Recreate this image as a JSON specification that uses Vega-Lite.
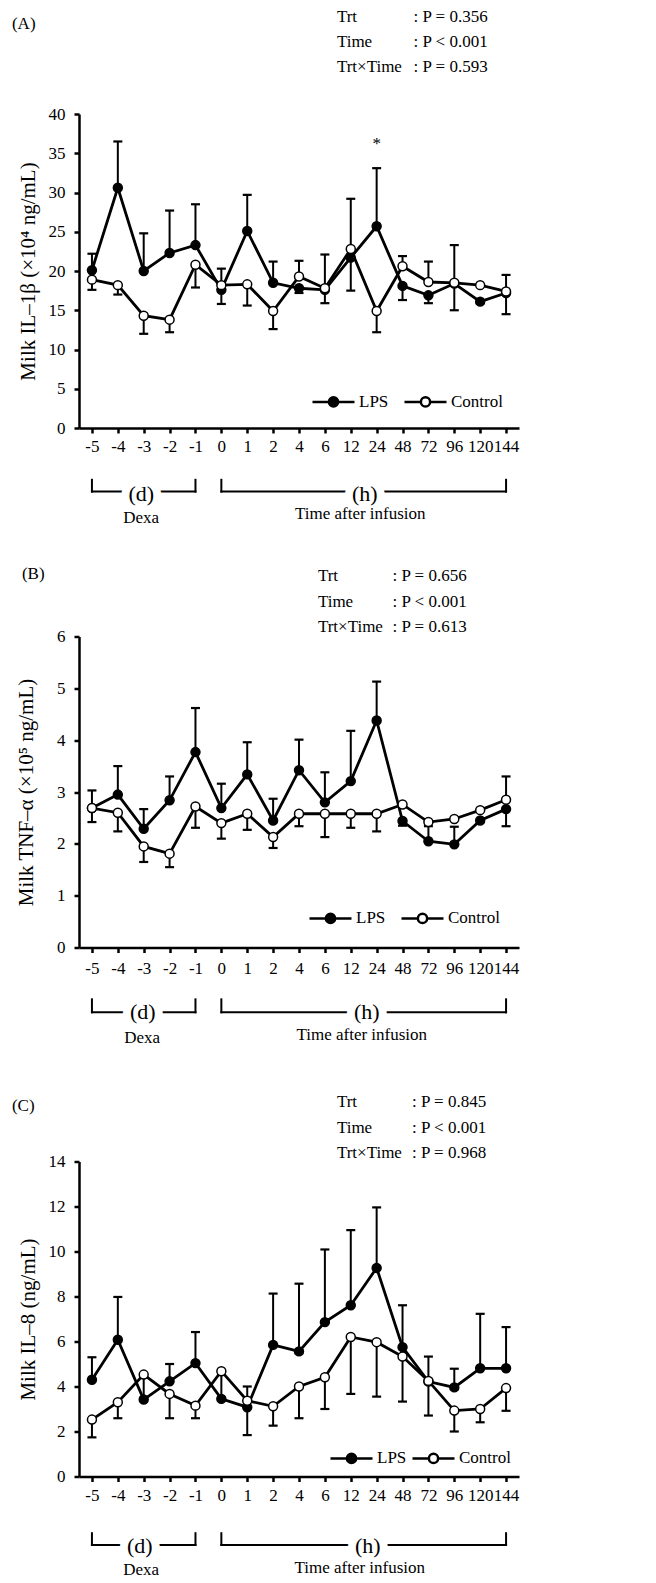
{
  "$schema": "https://vega.github.io/schema/vega-lite/v6.json",
  "background": "white",
  "padding": {"left": 11, "top": 7, "right": 5, "bottom": 2},
  "columns": 1,
  "align": "none",
  "spacing": 37.5,
  "config": {
    "font": "Liberation Serif",
    "view": {"stroke": null},
    "axis": {"labelFont": "Liberation Serif", "titleFont": "Liberation Serif", "labelColor": "black", "titleColor": "black", "domainColor": "black", "tickColor": "black", "domainWidth": 2.5, "tickWidth": 2.5, "tickSize": 5, "grid": false, "labelFontSize": 17, "titleFontSize": 21, "titleFontWeight": "normal", "labelPadding": 9, "labelOverlap": false},
    "legend": {"labelFont": "Liberation Serif", "labelFontSize": 17, "labelColor": "black"},
    "text": {"font": "Liberation Serif", "color": "black", "fontSize": 17},
    "rule": {"color": "black", "strokeWidth": 2, "strokeCap": "square"}
  },
  "datasets": {
    "A": [
      {"time": "-5", "group": "LPS", "mean": 20.1, "err": 22.2},
      {"time": "-4", "group": "LPS", "mean": 30.6, "err": 36.5},
      {"time": "-3", "group": "LPS", "mean": 20.0, "err": 24.8},
      {"time": "-2", "group": "LPS", "mean": 22.3, "err": 27.7},
      {"time": "-1", "group": "LPS", "mean": 23.3, "err": 28.5},
      {"time": "0", "group": "LPS", "mean": 17.6, "err": 15.8},
      {"time": "1", "group": "LPS", "mean": 25.1, "err": 29.7},
      {"time": "2", "group": "LPS", "mean": 18.5, "err": 21.2},
      {"time": "4", "group": "LPS", "mean": 17.8, "err": 17.2},
      {"time": "6", "group": "LPS", "mean": 17.6, "err": 15.9},
      {"time": "12", "group": "LPS", "mean": 21.7, "err": 17.5},
      {"time": "24", "group": "LPS", "mean": 25.7, "err": 33.1},
      {"time": "48", "group": "LPS", "mean": 18.1, "err": 16.3},
      {"time": "72", "group": "LPS", "mean": 16.9, "err": 15.9},
      {"time": "96", "group": "LPS", "mean": 18.4, "err": 15.0},
      {"time": "120", "group": "LPS", "mean": 16.1, "err": 15.9},
      {"time": "144", "group": "LPS", "mean": 17.2, "err": 14.5},
      {"time": "-5", "group": "Control", "mean": 18.9, "err": 17.6},
      {"time": "-4", "group": "Control", "mean": 18.2, "err": 17.0},
      {"time": "-3", "group": "Control", "mean": 14.3, "err": 12.0},
      {"time": "-2", "group": "Control", "mean": 13.8, "err": 12.2},
      {"time": "-1", "group": "Control", "mean": 20.8, "err": 17.9},
      {"time": "0", "group": "Control", "mean": 18.2, "err": 20.3},
      {"time": "1", "group": "Control", "mean": 18.3, "err": 15.6},
      {"time": "2", "group": "Control", "mean": 14.9, "err": 12.6},
      {"time": "4", "group": "Control", "mean": 19.3, "err": 21.3},
      {"time": "6", "group": "Control", "mean": 17.8, "err": 22.1},
      {"time": "12", "group": "Control", "mean": 22.8, "err": 29.2},
      {"time": "24", "group": "Control", "mean": 14.9, "err": 12.2},
      {"time": "48", "group": "Control", "mean": 20.6, "err": 21.9},
      {"time": "72", "group": "Control", "mean": 18.6, "err": 21.2},
      {"time": "96", "group": "Control", "mean": 18.5, "err": 23.3},
      {"time": "120", "group": "Control", "mean": 18.2, "err": null},
      {"time": "144", "group": "Control", "mean": 17.4, "err": 19.5}
    ],
    "B": [
      {"time": "-5", "group": "LPS", "mean": 2.69, "err": 3.03},
      {"time": "-4", "group": "LPS", "mean": 2.95, "err": 3.50},
      {"time": "-3", "group": "LPS", "mean": 2.29, "err": 2.67},
      {"time": "-2", "group": "LPS", "mean": 2.84, "err": 3.30},
      {"time": "-1", "group": "LPS", "mean": 3.77, "err": 4.62},
      {"time": "0", "group": "LPS", "mean": 2.69, "err": 3.16},
      {"time": "1", "group": "LPS", "mean": 3.34, "err": 3.96},
      {"time": "2", "group": "LPS", "mean": 2.45, "err": 2.87},
      {"time": "4", "group": "LPS", "mean": 3.42, "err": 4.01},
      {"time": "6", "group": "LPS", "mean": 2.80, "err": 3.38},
      {"time": "12", "group": "LPS", "mean": 3.21, "err": 4.18},
      {"time": "24", "group": "LPS", "mean": 4.38, "err": 5.13},
      {"time": "48", "group": "LPS", "mean": 2.44, "err": 2.35},
      {"time": "72", "group": "LPS", "mean": 2.05, "err": 2.34},
      {"time": "96", "group": "LPS", "mean": 1.99, "err": 2.33},
      {"time": "120", "group": "LPS", "mean": 2.45, "err": null},
      {"time": "144", "group": "LPS", "mean": 2.67, "err": 2.34},
      {"time": "-5", "group": "Control", "mean": 2.69, "err": 2.42},
      {"time": "-4", "group": "Control", "mean": 2.60, "err": 2.24},
      {"time": "-3", "group": "Control", "mean": 1.95, "err": 1.65},
      {"time": "-2", "group": "Control", "mean": 1.81, "err": 1.55},
      {"time": "-1", "group": "Control", "mean": 2.72, "err": 2.31},
      {"time": "0", "group": "Control", "mean": 2.40, "err": 2.10},
      {"time": "1", "group": "Control", "mean": 2.58, "err": 2.27},
      {"time": "2", "group": "Control", "mean": 2.13, "err": 1.92},
      {"time": "4", "group": "Control", "mean": 2.58, "err": 2.34},
      {"time": "6", "group": "Control", "mean": 2.58, "err": 2.13},
      {"time": "12", "group": "Control", "mean": 2.58, "err": 2.31},
      {"time": "24", "group": "Control", "mean": 2.58, "err": 2.24},
      {"time": "48", "group": "Control", "mean": 2.76, "err": null},
      {"time": "72", "group": "Control", "mean": 2.42, "err": null},
      {"time": "96", "group": "Control", "mean": 2.48, "err": null},
      {"time": "120", "group": "Control", "mean": 2.65, "err": null},
      {"time": "144", "group": "Control", "mean": 2.85, "err": 3.30}
    ],
    "C": [
      {"time": "-5", "group": "LPS", "mean": 4.30, "err": 5.30},
      {"time": "-4", "group": "LPS", "mean": 6.08, "err": 7.98},
      {"time": "-3", "group": "LPS", "mean": 3.42, "err": null},
      {"time": "-2", "group": "LPS", "mean": 4.23, "err": 5.00},
      {"time": "-1", "group": "LPS", "mean": 5.04, "err": 6.42},
      {"time": "0", "group": "LPS", "mean": 3.45, "err": null},
      {"time": "1", "group": "LPS", "mean": 3.08, "err": 1.84},
      {"time": "2", "group": "LPS", "mean": 5.85, "err": 8.13},
      {"time": "4", "group": "LPS", "mean": 5.56, "err": 8.57},
      {"time": "6", "group": "LPS", "mean": 6.86, "err": 10.09},
      {"time": "12", "group": "LPS", "mean": 7.61, "err": 10.95},
      {"time": "24", "group": "LPS", "mean": 9.27, "err": 11.96},
      {"time": "48", "group": "LPS", "mean": 5.75, "err": 7.61},
      {"time": "72", "group": "LPS", "mean": 4.22, "err": 5.33},
      {"time": "96", "group": "LPS", "mean": 3.96, "err": 4.79},
      {"time": "120", "group": "LPS", "mean": 4.81, "err": 7.23},
      {"time": "144", "group": "LPS", "mean": 4.81, "err": 6.64},
      {"time": "-5", "group": "Control", "mean": 2.53, "err": 1.74},
      {"time": "-4", "group": "Control", "mean": 3.30, "err": 2.59},
      {"time": "-3", "group": "Control", "mean": 4.53, "err": 3.50},
      {"time": "-2", "group": "Control", "mean": 3.67, "err": 2.59},
      {"time": "-1", "group": "Control", "mean": 3.15, "err": 2.59},
      {"time": "0", "group": "Control", "mean": 4.68, "err": 3.50},
      {"time": "1", "group": "Control", "mean": 3.37, "err": 4.00},
      {"time": "2", "group": "Control", "mean": 3.12, "err": 2.26},
      {"time": "4", "group": "Control", "mean": 4.00, "err": 2.59},
      {"time": "6", "group": "Control", "mean": 4.41, "err": 3.00},
      {"time": "12", "group": "Control", "mean": 6.20, "err": 3.67},
      {"time": "24", "group": "Control", "mean": 5.97, "err": 3.55},
      {"time": "48", "group": "Control", "mean": 5.33, "err": 3.33},
      {"time": "72", "group": "Control", "mean": 4.25, "err": 2.71},
      {"time": "96", "group": "Control", "mean": 2.93, "err": 2.00},
      {"time": "120", "group": "Control", "mean": 3.00, "err": 2.41},
      {"time": "144", "group": "Control", "mean": 3.93, "err": 2.92}
    ],
    "vticks": [{"at": "-5"}, {"at": "-1"}, {"at": "0"}, {"at": "144"}],
    "hsegs": [{"s": "-5", "e": "-1"}, {"s": "0", "e": "144"}]
  },
  "resolve": {"scale": {"x": "independent", "y": "independent", "fill": "independent"}, "legend": {"fill": "independent"}},
  "concat": [
    {
      "width": 440, "height": 314,
      "layer": [
        {
          "data": {"name": "A"},
          "encoding": {
            "x": {"field": "time", "type": "ordinal", "scale": {"type": "point", "padding": 0.5, "domain": ["-5","-4","-3","-2","-1","0","1","2","4","6","12","24","48","72","96","120","144"]}, "axis": {"title": null, "labelAngle": 0, "labelPadding": 5, "labelOverlap": false, "labelBound": false}},
            "y": {"field": "mean", "type": "quantitative", "scale": {"domain": [0, 40], "nice": false, "zero": false}, "axis": {"title": "Milk IL–1β (×10⁴ ng/mL)", "values": [0,5,10,15,20,25,30,35,40], "labelOverlap": false, "titlePadding": 10}}
          },
          "layer": [
            {"transform": [{"filter": "isValid(datum.err)"}], "mark": {"type": "rule", "strokeWidth": 2, "strokeCap": "butt"}, "encoding": {"y2": {"field": "err"}}},
            {"transform": [{"filter": "isValid(datum.err)"}], "mark": {"type": "tick", "color": "black", "thickness": 2.2, "size": 9, "opacity": 1}, "encoding": {"y": {"field": "err", "type": "quantitative", "axis": {"title": "Milk IL–1β (×10⁴ ng/mL)", "values": [0,5,10,15,20,25,30,35,40], "labelOverlap": false, "titlePadding": 10}}}},
            {"mark": {"type": "line", "color": "black", "strokeWidth": 2.8}, "encoding": {"detail": {"field": "group"}, "order": {"value": null}}},
            {"mark": {"type": "point", "shape": "circle", "filled": true, "size": 80, "stroke": "black", "strokeWidth": 1.5, "opacity": 1},
             "encoding": {"fill": {"field": "group", "type": "nominal", "scale": {"domain": ["LPS", "Control"], "range": ["black", "white"]},
               "legend": {"title": null, "orient": "bottom-right", "direction": "horizontal", "offset": 16, "padding": 0, "symbolType": "M-1,0L-0.22,0M0.22,0L1,0M0.22,0A0.22,0.22,0,1,1,-0.22,0A0.22,0.22,0,1,1,0.22,0Z", "symbolSize": 1764, "symbolStrokeColor": "black", "symbolStrokeWidth": 2.5, "symbolOpacity": 1, "labelOffset": 3, "columnPadding": 10}}}}
          ]
        },
        {"data": {"values": [{"label": "(A)"}]}, "mark": {"type": "text", "align": "left", "baseline": "middle", "dx": -80}, "encoding": {"x": {"datum": "-5", "type": "ordinal"}, "y": {"datum": 51.5, "axis": {"title": "Milk IL–1β (×10⁴ ng/mL)", "values": [0,5,10,15,20,25,30,35,40], "labelOverlap": false, "titlePadding": 10}}, "text": {"field": "label"}}},
        {"data": {"values": [{"t": ["Trt", "Time", "Trt×Time"]}]}, "mark": {"type": "text", "align": "left", "baseline": "middle", "dx": 12, "lineHeight": 25.3}, "encoding": {"x": {"datum": "6", "type": "ordinal"}, "y": {"datum": 52.4, "axis": {"title": "Milk IL–1β (×10⁴ ng/mL)", "values": [0,5,10,15,20,25,30,35,40], "labelOverlap": false, "titlePadding": 10}}, "text": {"field": "t"}}},
        {"data": {"values": [{"p": [": P = 0.356", ": P < 0.001", ": P = 0.593"]}]}, "mark": {"type": "text", "align": "left", "baseline": "middle", "dx": 11, "lineHeight": 25.3}, "encoding": {"x": {"datum": "48", "type": "ordinal"}, "y": {"datum": 52.4, "axis": {"title": "Milk IL–1β (×10⁴ ng/mL)", "values": [0,5,10,15,20,25,30,35,40], "labelOverlap": false, "titlePadding": 10}}, "text": {"field": "p"}}},
        {"data": {"values": [{"label": "*"}]}, "mark": {"type": "text", "align": "center", "baseline": "alphabetic"}, "encoding": {"x": {"datum": "24", "type": "ordinal"}, "y": {"datum": 35.5, "axis": {"title": "Milk IL–1β (×10⁴ ng/mL)", "values": [0,5,10,15,20,25,30,35,40], "labelOverlap": false, "titlePadding": 10}}, "text": {"field": "label"}}},
        {"data": {"name": "vticks"}, "mark": {"type": "rule"}, "encoding": {"x": {"field": "at", "type": "ordinal"}, "y": {"datum": -6.6, "axis": {"title": "Milk IL–1β (×10⁴ ng/mL)", "values": [0,5,10,15,20,25,30,35,40], "labelOverlap": false, "titlePadding": 10}}, "y2": {"datum": -8.1}}},
        {"data": {"name": "hsegs"}, "mark": {"type": "rule"}, "encoding": {"x": {"field": "s", "type": "ordinal"}, "x2": {"field": "e"}, "y": {"datum": -8.1, "axis": {"title": "Milk IL–1β (×10⁴ ng/mL)", "values": [0,5,10,15,20,25,30,35,40], "labelOverlap": false, "titlePadding": 10}}}},
        {"data": {"values": [{"label": "(d)"}]}, "mark": {"type": "text", "align": "center", "baseline": "middle", "fontSize": 22, "dx": -2.5, "color": "white", "stroke": "white", "strokeWidth": 16, "strokeJoin": "round"}, "encoding": {"x": {"datum": "-3", "type": "ordinal"}, "y": {"datum": -8.4, "axis": {"title": "Milk IL–1β (×10⁴ ng/mL)", "values": [0,5,10,15,20,25,30,35,40], "labelOverlap": false, "titlePadding": 10}}, "text": {"field": "label"}}},
        {"data": {"values": [{"label": "(h)"}]}, "mark": {"type": "text", "align": "center", "baseline": "middle", "fontSize": 22, "dx": 14, "color": "white", "stroke": "white", "strokeWidth": 16, "strokeJoin": "round"}, "encoding": {"x": {"datum": "12", "type": "ordinal"}, "y": {"datum": -8.4, "axis": {"title": "Milk IL–1β (×10⁴ ng/mL)", "values": [0,5,10,15,20,25,30,35,40], "labelOverlap": false, "titlePadding": 10}}, "text": {"field": "label"}}},
        {"data": {"values": [{"label": "(d)"}]}, "mark": {"type": "text", "align": "center", "baseline": "middle", "fontSize": 22, "dx": -2.5}, "encoding": {"x": {"datum": "-3", "type": "ordinal"}, "y": {"datum": -8.4, "axis": {"title": "Milk IL–1β (×10⁴ ng/mL)", "values": [0,5,10,15,20,25,30,35,40], "labelOverlap": false, "titlePadding": 10}}, "text": {"field": "label"}}},
        {"data": {"values": [{"label": "(h)"}]}, "mark": {"type": "text", "align": "center", "baseline": "middle", "fontSize": 22, "dx": 14}, "encoding": {"x": {"datum": "12", "type": "ordinal"}, "y": {"datum": -8.4, "axis": {"title": "Milk IL–1β (×10⁴ ng/mL)", "values": [0,5,10,15,20,25,30,35,40], "labelOverlap": false, "titlePadding": 10}}, "text": {"field": "label"}}},
        {"data": {"values": [{"label": "Dexa"}]}, "mark": {"type": "text", "align": "center", "baseline": "middle", "dx": -2.5}, "encoding": {"x": {"datum": "-3", "type": "ordinal"}, "y": {"datum": -11.5, "axis": {"title": "Milk IL–1β (×10⁴ ng/mL)", "values": [0,5,10,15,20,25,30,35,40], "labelOverlap": false, "titlePadding": 10}}, "text": {"field": "label"}}},
        {"data": {"values": [{"label": "Time after infusion"}]}, "mark": {"type": "text", "align": "center", "baseline": "middle", "dx": 9.5}, "encoding": {"x": {"datum": "12", "type": "ordinal"}, "y": {"datum": -11.0, "axis": {"title": "Milk IL–1β (×10⁴ ng/mL)", "values": [0,5,10,15,20,25,30,35,40], "labelOverlap": false, "titlePadding": 10}}, "text": {"field": "label"}}}
      ]
    },
    {
      "spacing": 46,
      "resolve": {"scale": {"x": "independent", "y": "independent", "fill": "independent"}, "legend": {"fill": "independent"}},
      "vconcat": [
        {
          "width": 440, "height": 311,
          "layer": [
            {
              "data": {"name": "B"},
              "encoding": {
                "x": {"field": "time", "type": "ordinal", "scale": {"type": "point", "padding": 0.5, "domain": ["-5","-4","-3","-2","-1","0","1","2","4","6","12","24","48","72","96","120","144"]}, "axis": {"title": null, "labelAngle": 0, "labelPadding": 8, "labelOverlap": false, "labelBound": false}},
                "y": {"field": "mean", "type": "quantitative", "scale": {"domain": [0, 6], "nice": false, "zero": false}, "axis": {"title": "Milk TNF–α (×10⁵ ng/mL)", "values": [0,1,2,3,4,5,6], "labelOverlap": false, "titlePadding": 20}}
              },
              "layer": [
                {"transform": [{"filter": "isValid(datum.err)"}], "mark": {"type": "rule", "strokeWidth": 2, "strokeCap": "butt"}, "encoding": {"y2": {"field": "err"}}},
                {"transform": [{"filter": "isValid(datum.err)"}], "mark": {"type": "tick", "color": "black", "thickness": 2.2, "size": 9, "opacity": 1}, "encoding": {"y": {"field": "err", "type": "quantitative", "axis": {"title": "Milk TNF–α (×10⁵ ng/mL)", "values": [0,1,2,3,4,5,6], "labelOverlap": false, "titlePadding": 20}}}},
                {"mark": {"type": "line", "color": "black", "strokeWidth": 2.8}, "encoding": {"detail": {"field": "group"}, "order": {"value": null}}},
                {"mark": {"type": "point", "shape": "circle", "filled": true, "size": 80, "stroke": "black", "strokeWidth": 1.5, "opacity": 1},
                 "encoding": {"fill": {"field": "group", "type": "nominal", "scale": {"domain": ["LPS", "Control"], "range": ["black", "white"]},
                   "legend": {"title": null, "orient": "bottom-right", "direction": "horizontal", "offset": 19, "padding": 0, "symbolType": "M-1,0L-0.22,0M0.22,0L1,0M0.22,0A0.22,0.22,0,1,1,-0.22,0A0.22,0.22,0,1,1,0.22,0Z", "symbolSize": 1764, "symbolStrokeColor": "black", "symbolStrokeWidth": 2.5, "symbolOpacity": 1, "labelOffset": 3, "columnPadding": 10}}}}
              ]
            },
            {"data": {"values": [{"label": "(B)"}]}, "mark": {"type": "text", "align": "left", "baseline": "middle", "dx": -70}, "encoding": {"x": {"datum": "-5", "type": "ordinal"}, "y": {"datum": 7.2}, "text": {"field": "label"}}},
            {"data": {"values": [{"t": ["Trt", "Time", "Trt×Time"]}]}, "mark": {"type": "text", "align": "left", "baseline": "middle", "dx": -7, "lineHeight": 25.5}, "encoding": {"x": {"datum": "6", "type": "ordinal"}, "y": {"datum": 7.16}, "text": {"field": "t"}}},
            {"data": {"values": [{"p": [": P = 0.656", ": P < 0.001", ": P = 0.613"]}]}, "mark": {"type": "text", "align": "left", "baseline": "middle", "dx": -10, "lineHeight": 25.5}, "encoding": {"x": {"datum": "48", "type": "ordinal"}, "y": {"datum": 7.16}, "text": {"field": "p"}}},
            {"data": {"name": "vticks"}, "mark": {"type": "rule"}, "encoding": {"x": {"field": "at", "type": "ordinal"}, "y": {"datum": -1.0}, "y2": {"datum": -1.25}}},
            {"data": {"name": "hsegs"}, "mark": {"type": "rule"}, "encoding": {"x": {"field": "s", "type": "ordinal"}, "x2": {"field": "e"}, "y": {"datum": -1.25}}},
            {"data": {"values": [{"label": "(d)"}]}, "mark": {"type": "text", "align": "center", "baseline": "middle", "fontSize": 22, "dx": -1, "color": "white", "stroke": "white", "strokeWidth": 16, "strokeJoin": "round"}, "encoding": {"x": {"datum": "-3", "type": "ordinal"}, "y": {"datum": -1.25}, "text": {"field": "label"}}},
            {"data": {"values": [{"label": "(h)"}]}, "mark": {"type": "text", "align": "center", "baseline": "middle", "fontSize": 22, "dx": 16, "color": "white", "stroke": "white", "strokeWidth": 16, "strokeJoin": "round"}, "encoding": {"x": {"datum": "12", "type": "ordinal"}, "y": {"datum": -1.25}, "text": {"field": "label"}}},
            {"data": {"values": [{"label": "(d)"}]}, "mark": {"type": "text", "align": "center", "baseline": "middle", "fontSize": 22, "dx": -1}, "encoding": {"x": {"datum": "-3", "type": "ordinal"}, "y": {"datum": -1.25}, "text": {"field": "label"}}},
            {"data": {"values": [{"label": "(h)"}]}, "mark": {"type": "text", "align": "center", "baseline": "middle", "fontSize": 22, "dx": 16}, "encoding": {"x": {"datum": "12", "type": "ordinal"}, "y": {"datum": -1.25}, "text": {"field": "label"}}},
            {"data": {"values": [{"label": "Dexa"}]}, "mark": {"type": "text", "align": "center", "baseline": "middle", "dx": -1.5}, "encoding": {"x": {"datum": "-3", "type": "ordinal"}, "y": {"datum": -1.74}, "text": {"field": "label"}}},
            {"data": {"values": [{"label": "Time after infusion"}]}, "mark": {"type": "text", "align": "center", "baseline": "middle", "dx": 11}, "encoding": {"x": {"datum": "12", "type": "ordinal"}, "y": {"datum": -1.68}, "text": {"field": "label"}}}
          ]
        },
        {
          "width": 440, "height": 315,
          "layer": [
            {
              "data": {"name": "C"},
              "encoding": {
                "x": {"field": "time", "type": "ordinal", "scale": {"type": "point", "padding": 0.5, "domain": ["-5","-4","-3","-2","-1","0","1","2","4","6","12","24","48","72","96","120","144"]}, "axis": {"title": null, "labelAngle": 0, "labelPadding": 6, "labelOverlap": false, "labelBound": false}},
                "y": {"field": "mean", "type": "quantitative", "scale": {"domain": [0, 14], "nice": false, "zero": false}, "axis": {"title": "Milk IL–8 (ng/mL)", "values": [0,2,4,6,8,10,12,14], "labelOverlap": false, "titlePadding": 10}}
              },
              "layer": [
                {"transform": [{"filter": "isValid(datum.err)"}], "mark": {"type": "rule", "strokeWidth": 2, "strokeCap": "butt"}, "encoding": {"y2": {"field": "err"}}},
                {"transform": [{"filter": "isValid(datum.err)"}], "mark": {"type": "tick", "color": "black", "thickness": 2.2, "size": 9, "opacity": 1}, "encoding": {"y": {"field": "err", "type": "quantitative", "axis": {"title": "Milk IL–8 (ng/mL)", "values": [0,2,4,6,8,10,12,14], "labelOverlap": false, "titlePadding": 10}}}},
                {"mark": {"type": "line", "color": "black", "strokeWidth": 2.8}, "encoding": {"detail": {"field": "group"}, "order": {"value": null}}},
                {"mark": {"type": "point", "shape": "circle", "filled": true, "size": 80, "stroke": "black", "strokeWidth": 1.5, "opacity": 1},
                 "encoding": {"fill": {"field": "group", "type": "nominal", "scale": {"domain": ["LPS", "Control"], "range": ["black", "white"]},
                   "legend": {"title": null, "orient": "bottom-right", "direction": "horizontal", "offset": 8, "padding": 0, "symbolType": "M-1,0L-0.22,0M0.22,0L1,0M0.22,0A0.22,0.22,0,1,1,-0.22,0A0.22,0.22,0,1,1,0.22,0Z", "symbolSize": 1764, "symbolStrokeColor": "black", "symbolStrokeWidth": 2.5, "symbolOpacity": 1, "labelOffset": 3, "columnPadding": 0}}}}
              ]
            },
            {"data": {"values": [{"label": "(C)"}]}, "mark": {"type": "text", "align": "left", "baseline": "middle", "dx": -80}, "encoding": {"x": {"datum": "-5", "type": "ordinal"}, "y": {"datum": 16.46}, "text": {"field": "label"}}},
            {"data": {"values": [{"t": ["Trt", "Time", "Trt×Time"]}]}, "mark": {"type": "text", "align": "left", "baseline": "middle", "dx": 12, "lineHeight": 25.5}, "encoding": {"x": {"datum": "6", "type": "ordinal"}, "y": {"datum": 16.64}, "text": {"field": "t"}}},
            {"data": {"values": [{"p": [": P = 0.845", ": P < 0.001", ": P = 0.968"]}]}, "mark": {"type": "text", "align": "left", "baseline": "middle", "dx": 9.5, "lineHeight": 25.5}, "encoding": {"x": {"datum": "48", "type": "ordinal"}, "y": {"datum": 16.64}, "text": {"field": "p"}}},
            {"data": {"name": "vticks"}, "mark": {"type": "rule"}, "encoding": {"x": {"field": "at", "type": "ordinal"}, "y": {"datum": -2.52}, "y2": {"datum": -3.04}}},
            {"data": {"name": "hsegs"}, "mark": {"type": "rule"}, "encoding": {"x": {"field": "s", "type": "ordinal"}, "x2": {"field": "e"}, "y": {"datum": -3.04}}},
            {"data": {"values": [{"label": "(d)"}]}, "mark": {"type": "text", "align": "center", "baseline": "middle", "fontSize": 22, "dx": -4, "color": "white", "stroke": "white", "strokeWidth": 16, "strokeJoin": "round"}, "encoding": {"x": {"datum": "-3", "type": "ordinal"}, "y": {"datum": -3.1}, "text": {"field": "label"}}},
            {"data": {"values": [{"label": "(h)"}]}, "mark": {"type": "text", "align": "center", "baseline": "middle", "fontSize": 22, "dx": 17, "color": "white", "stroke": "white", "strokeWidth": 16, "strokeJoin": "round"}, "encoding": {"x": {"datum": "12", "type": "ordinal"}, "y": {"datum": -3.1}, "text": {"field": "label"}}},
            {"data": {"values": [{"label": "(d)"}]}, "mark": {"type": "text", "align": "center", "baseline": "middle", "fontSize": 22, "dx": -4}, "encoding": {"x": {"datum": "-3", "type": "ordinal"}, "y": {"datum": -3.1}, "text": {"field": "label"}}},
            {"data": {"values": [{"label": "(h)"}]}, "mark": {"type": "text", "align": "center", "baseline": "middle", "fontSize": 22, "dx": 17}, "encoding": {"x": {"datum": "12", "type": "ordinal"}, "y": {"datum": -3.1}, "text": {"field": "label"}}},
            {"data": {"values": [{"label": "Dexa"}]}, "mark": {"type": "text", "align": "center", "baseline": "middle", "dx": -2.5}, "encoding": {"x": {"datum": "-3", "type": "ordinal"}, "y": {"datum": -4.15}, "text": {"field": "label"}}},
            {"data": {"values": [{"label": "Time after infusion"}]}, "mark": {"type": "text", "align": "center", "baseline": "middle", "dx": 9}, "encoding": {"x": {"datum": "12", "type": "ordinal"}, "y": {"datum": -4.08}, "text": {"field": "label"}}}
          ]
        }
      ]
    }
  ]
}
